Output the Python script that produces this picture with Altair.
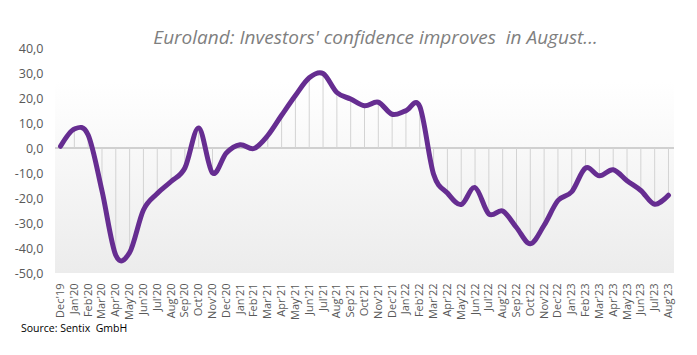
import altair as alt
import pandas as pd

months = ["Dec'19",
          "Jan'20", "Feb'20", "Mar'20", "Apr'20", "May'20", "Jun'20", "Jul'20", "Aug'20", "Sep'20", "Oct'20", "Nov'20", "Dec'20",
          "Jan'21", "Feb'21", "Mar'21", "Apr'21", "May'21", "Jun'21", "Jul'21", "Aug'21", "Sep'21", "Oct'21", "Nov'21", "Dec'21",
          "Jan'22", "Feb'22", "Mar'22", "Apr'22", "May'22", "Jun'22", "Jul'22", "Aug'22", "Sep'22", "Oct'22", "Nov'22", "Dec'22",
          "Jan'23", "Feb'23", "Mar'23", "Apr'23", "May'23", "Jun'23", "Jul'23", "Aug'23"]
values = [0.7,
          7.6, 5.2, -17.1, -42.9, -41.8, -24.8, -18.2, -13.4, -8.0, 8.0, -10.0, -2.0,
          1.3, -0.2, 5.0, 13.1, 21.0, 28.1, 29.8, 22.2, 19.6, 16.9, 18.3, 13.5,
          14.9, 16.6, -10.5, -18.0, -22.6, -15.8, -26.4, -25.2, -31.8, -38.3, -30.9, -21.0,
          -17.5, -8.0, -11.1, -8.7, -13.1, -17.0, -22.5, -18.9]
y_ticks = [-50, -40, -30, -20, -10, 0, 10, 20, 30, 40]
title_text = "Euroland: Investors' confidence improves \u00a0in August..."
source_text = "Source: Sentix \u00a0GmbH"

df = pd.DataFrame({"month": months, "value": values, "zero": [0] * len(values)})

W, H = 619, 225
LBL = "#595959"

xenc = alt.X("month:N", sort=months,
             scale=alt.Scale(type="point", padding=0.4),
             axis=alt.Axis(title=None, labelAngle=-90, labelFontSize=11, labelFont="Open Sans",
                           labelColor=LBL, ticks=False, domain=False, labelPadding=10,
                           grid=False, labelOverlap=False))
yscale = alt.Scale(domain=[-50, 40], nice=False, zero=False)
yaxis = alt.Axis(title=None, values=y_ticks, grid=False, ticks=False, domain=False,
                 labelFontSize=12.5, labelFont="Open Sans", labelColor=LBL, labelPadding=12,
                 labelOverlap=False, labelFlush=False,
                 labelExpr="replace(replace(format(datum.value, '.1f'), '.', ','), '\u2212', '-')")
yenc = alt.Y("value:Q", scale=yscale, axis=yaxis)

bg = alt.Chart(pd.DataFrame({"a": [0]})).mark_rect(
    color=alt.LinearGradient(gradient="linear", x1=0, x2=0, y1=0, y2=1,
                             stops=[alt.GradientStop(color="#ffffff", offset=0),
                                    alt.GradientStop(color="#ffffff", offset=0.15),
                                    alt.GradientStop(color="#ececec", offset=1)])
).encode(x=alt.value(0), x2=alt.value(W), y=alt.value(0), y2=alt.value(H))

zero = alt.Chart(df).mark_rule(color="#d0d0d0", strokeWidth=1.2).encode(
    y=alt.Y("zero:Q", scale=yscale, axis=yaxis), x=alt.value(0), x2=alt.value(W))

drops = alt.Chart(df).mark_rule(color="#d3d3d3", strokeWidth=1).encode(
    x=xenc, y=yenc, y2="zero:Q")

line = alt.Chart(df).mark_line(color="#662d91", strokeWidth=5, interpolate="cardinal",
                               strokeCap="round", strokeJoin="round").encode(x=xenc, y=yenc)

src = alt.Chart(pd.DataFrame({"t": [source_text]})).mark_text(
    align="left", baseline="middle", fontSize=10.5, font="Open Sans", color="#000000"
).encode(text="t:N", x=alt.value(-34), y=alt.value(281))

chart = alt.layer(bg, zero, drops, line, src).properties(
    width=W, height=H,
    title=alt.TitleParams(title_text, font="Open Sans", fontSize=19, fontStyle="italic",
                          fontWeight="normal", color="#7f7f7f", anchor="middle", dx=11, dy=6, offset=0),
    autosize=alt.AutoSizeParams(type="none"),
    padding={"left": 55, "top": 48, "right": 23, "bottom": 82},
).configure_view(stroke=None).configure_axisY(labelOverlap=False)

chart.save("out.html", embed_options={"renderer": "svg", "actions": False})
